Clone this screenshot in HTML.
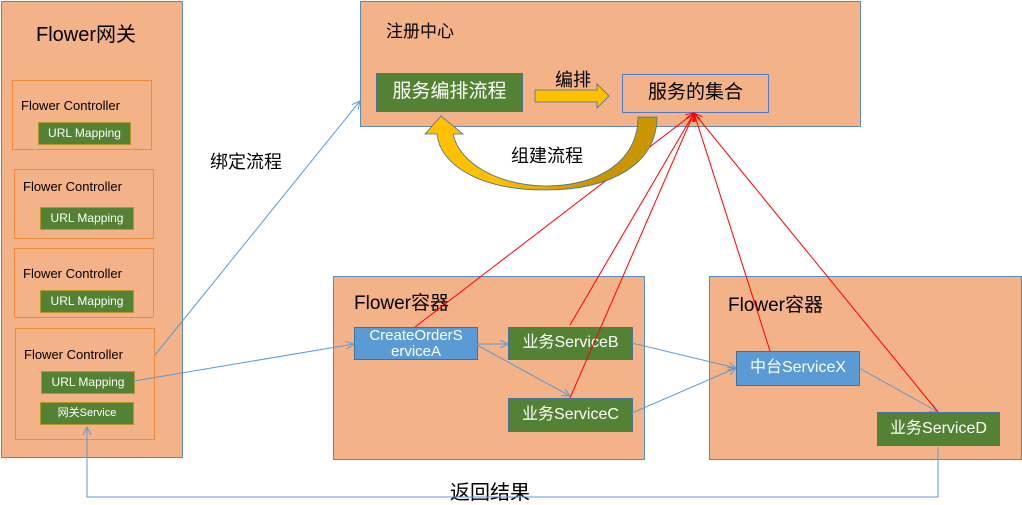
<!DOCTYPE html>
<html><head><meta charset="utf-8"><style>
body{margin:0;width:1022px;height:501px;background:#fff;overflow:hidden;position:relative;font-family:"Liberation Sans","Noto Sans CJK SC",sans-serif;}
.b{position:absolute;box-sizing:border-box;}
.o{background:#f3b287;border:1.5px solid #5b8cc0;}
.c{border:1.5px solid #ee8a3c;}
.g{background:#548235;border:1.5px solid #b8952a;color:#fff;font-size:12px;text-align:center;}
.gb{background:#548235;border:1.5px solid #4a6f9c;color:#fff;text-align:center;font-size:16px;}
.bl{background:#5b9bd5;border:1.5px solid #41719c;color:#fff;text-align:center;font-size:16px;}
.t{position:absolute;white-space:nowrap;color:#000;}
svg{position:absolute;left:0;top:0;}
</style></head><body>
<div class="b o" style="left:1px;top:1px;width:182px;height:457px"></div>
<div class="t" style="left:36px;top:18px;font-size:20px">Flower网关</div>
<div class="b c" style="left:12px;top:80px;width:140px;height:70px"></div>
<div class="t" style="left:21px;top:98px;font-size:13px">Flower Controller</div>
<div class="b g" style="left:38px;top:122px;width:93px;height:23px;line-height:20px">URL Mapping</div>
<div class="b c" style="left:14px;top:169px;width:140px;height:70px"></div>
<div class="t" style="left:23px;top:179px;font-size:13px">Flower Controller</div>
<div class="b g" style="left:40px;top:207px;width:94px;height:23px;line-height:20px">URL Mapping</div>
<div class="b c" style="left:14px;top:248px;width:140px;height:70px"></div>
<div class="t" style="left:23px;top:266px;font-size:13px">Flower Controller</div>
<div class="b g" style="left:40px;top:290px;width:94px;height:23px;line-height:20px">URL Mapping</div>
<div class="b c" style="left:15px;top:328px;width:140px;height:112px"></div>
<div class="t" style="left:24px;top:347px;font-size:13px">Flower Controller</div>
<div class="b g" style="left:41px;top:371px;width:94px;height:23px;line-height:20px">URL Mapping</div>
<div class="b g" style="left:40px;top:402px;width:94px;height:23px;line-height:20px;font-size:11px">网关Service</div>

<div class="b o" style="left:360px;top:1px;width:501px;height:126px"></div>
<div class="t" style="left:386px;top:17px;font-size:17px">注册中心</div>
<div class="b gb" style="left:376px;top:73px;width:147px;height:39px;line-height:36px;font-size:19px">服务编排流程</div>
<div class="b" style="left:622px;top:74px;width:147px;height:39px;border:1.5px solid #4a7ed0;line-height:36px;text-align:center;font-size:19px">服务的集合</div>
<div class="t" style="left:555px;top:66px;font-size:18px">编排</div>
<div class="t" style="left:511px;top:142px;font-size:18px">组建流程</div>
<div class="t" style="left:210px;top:148px;font-size:18px">绑定流程</div>
<div class="t" style="left:450px;top:476px;font-size:20px">返回结果</div>

<div class="b o" style="left:333px;top:276px;width:312px;height:184px"></div>
<div class="t" style="left:354px;top:288px;font-size:19px">Flower容器</div>
<div class="b bl" style="left:354px;top:327px;width:124px;height:33px;line-height:16px;font-size:15px">CreateOrderS<br>erviceA</div>
<div class="b gb" style="left:508px;top:327px;width:125px;height:33px;line-height:30px">业务ServiceB</div>
<div class="b gb" style="left:508px;top:398px;width:125px;height:34px;line-height:31px">业务ServiceC</div>

<div class="b o" style="left:709px;top:276px;width:313px;height:184px"></div>
<div class="t" style="left:728px;top:290px;font-size:19px">Flower容器</div>
<div class="b bl" style="left:736px;top:351px;width:124px;height:35px;line-height:32px">中台ServiceX</div>
<div class="b gb" style="left:877px;top:412px;width:123px;height:34px;line-height:31px">业务ServiceD</div>

<svg width="1022" height="501">
<defs><marker id="a" markerWidth="10" markerHeight="10" refX="9" refY="5" orient="auto" markerUnits="userSpaceOnUse"><path d="M1,1 L9,5 L1,9" fill="none" stroke="#5b9bd5" stroke-width="1"/></marker>
<marker id="r" markerWidth="10" markerHeight="10" refX="9" refY="5" orient="auto" markerUnits="userSpaceOnUse"><path d="M1,1 L9,5 L1,9" fill="none" stroke="#f00" stroke-width="1"/></marker></defs>
<g stroke="#5b9bd5" stroke-width="1" fill="none">
<line x1="155" y1="355" x2="360" y2="101" marker-end="url(#a)"/>
<line x1="134" y1="381" x2="354" y2="344" marker-end="url(#a)"/>
<line x1="477" y1="344" x2="508" y2="344" marker-end="url(#a)"/>
<line x1="477" y1="345" x2="570" y2="396" marker-end="url(#a)"/>
<line x1="632" y1="343" x2="736" y2="368" marker-end="url(#a)"/>
<line x1="632" y1="413" x2="736" y2="368" marker-end="url(#a)"/>
<line x1="859" y1="368" x2="938" y2="412" marker-end="url(#a)"/>
<polyline points="938,445 938,497 87,497 87,427" marker-end="url(#a)"/>
</g>
<g stroke="#f00" stroke-width="1" fill="none">
<line x1="415" y1="327" x2="694" y2="113" marker-end="url(#r)"/>
<line x1="570" y1="325" x2="694" y2="113" marker-end="url(#r)"/>
<line x1="570" y1="398" x2="694" y2="113" marker-end="url(#r)"/>
<line x1="770" y1="351" x2="694" y2="113" marker-end="url(#r)"/>
<line x1="938" y1="412" x2="694" y2="113" marker-end="url(#r)"/>
</g>
<path d="M535,90 L597,90 L597,84 L609,96 L597,108 L597,102 L535,102 Z" fill="#ffc000" stroke="#41719c" stroke-width="0.8"/>
<defs><linearGradient id="cg" x1="0" x2="1" y1="0" y2="0"><stop offset="0.3" stop-color="#ffc000"/><stop offset="0.7" stop-color="#c99600"/></linearGradient></defs>
<path d="M657,117 C657,165 610,190 545,190 C480,190 440,165 437,134 L425,134 L441,116 L463,134 L453,134 C460,165 500,185 545,186 C600,186 638,160 638,117 Z" fill="url(#cg)" stroke="#41719c" stroke-width="0.8"/>
</svg>
</body></html>
